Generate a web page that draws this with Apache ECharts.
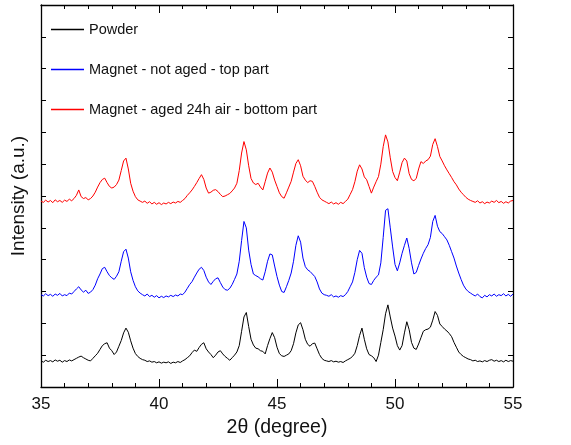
<!DOCTYPE html>
<html>
<head>
<meta charset="utf-8">
<script src="https://cdn.jsdelivr.net/npm/echarts@6/dist/echarts.min.js"></script>
<style>
  html, body { margin: 0; padding: 0; background: #fff; }
  #chart { width: 571px; height: 445px; }
</style>
</head>
<body>
<div id="chart"></div>
<script>
// XRD patterns, 2θ from 35° to 55° sampled every 0.1°; curves stacked with offsets (a.u.)
const angleStart = 35.0;
const angleStep = 0.1;

const seriesNames = [
  'Powder',
  'Magnet - not aged - top part',
  'Magnet - aged 24h air - bottom part'
];
const seriesColors = ['#000000', '#0000ff', '#ff0000'];

const powder = [
  0.82,0.78,0.84,0.80,0.83,0.79,0.85,0.81,0.84,0.78,
  0.83,0.80,0.85,0.82,0.86,0.90,0.94,0.97,0.92,0.88,
  0.84,0.82,0.90,0.98,1.06,1.18,1.30,1.36,1.39,1.22,
  1.14,1.02,1.10,1.28,1.46,1.70,1.85,1.72,1.45,1.22,
  1.05,0.96,0.90,0.86,0.84,0.80,0.82,0.78,0.80,0.76,
  0.79,0.75,0.78,0.76,0.79,0.74,0.78,0.76,0.80,0.77,
  0.82,0.86,0.92,0.98,1.08,1.16,1.12,1.24,1.34,1.39,
  1.20,1.10,1.02,0.92,1.00,1.10,1.14,1.04,0.96,0.90,
  0.84,0.92,1.00,1.10,1.30,1.75,2.20,2.34,1.90,1.50,
  1.32,1.22,1.20,1.14,1.12,1.04,1.30,1.52,1.71,1.55,
  1.25,1.05,0.98,0.96,1.00,1.04,1.14,1.36,1.70,1.95,
  2.02,1.80,1.50,1.34,1.28,1.36,1.38,1.20,1.02,0.90,
  0.84,0.82,0.80,0.83,0.79,0.81,0.78,0.80,0.77,0.82,
  0.86,0.90,0.96,1.06,1.30,1.62,1.85,1.50,1.20,1.02,
  0.98,0.92,0.80,1.00,1.40,1.80,2.30,2.58,2.20,1.85,
  1.60,1.30,1.16,1.30,1.70,2.05,1.80,1.40,1.22,1.18,
  1.35,1.55,1.75,1.80,1.82,1.88,2.10,2.37,2.25,1.98,
  1.90,1.82,1.76,1.68,1.58,1.40,1.25,1.10,1.02,0.96,
  0.92,0.88,0.86,0.82,0.84,0.80,0.82,0.79,0.83,0.80,
  0.84,0.86,0.81,0.84,0.80,0.83,0.79,0.84,0.80,0.83,
  0.81
];

const notAgedTop = [
  2.90,2.86,2.93,2.87,2.91,2.85,2.92,2.88,2.94,2.86,
  2.90,2.87,2.95,2.92,3.00,3.08,3.15,3.05,2.98,3.04,
  2.94,2.98,3.06,3.20,3.40,3.55,3.72,3.76,3.62,3.50,
  3.43,3.38,3.48,3.62,3.95,4.25,4.33,4.05,3.62,3.35,
  3.15,3.02,2.95,2.90,2.86,2.92,2.84,2.88,2.82,2.87,
  2.80,2.85,2.81,2.86,2.83,2.88,2.84,2.89,2.86,2.92,
  2.90,2.98,3.10,3.22,3.31,3.45,3.58,3.70,3.76,3.66,
  3.45,3.30,3.22,3.32,3.40,3.43,3.28,3.14,3.06,3.04,
  3.10,3.22,3.38,3.55,3.95,4.60,5.20,5.00,4.30,3.85,
  3.55,3.50,3.46,3.40,3.36,3.62,3.95,4.18,4.15,3.80,
  3.47,3.20,3.00,2.97,3.15,3.35,3.58,3.95,4.45,4.75,
  4.55,4.05,3.78,3.68,3.63,3.55,3.47,3.30,3.08,2.95,
  2.90,2.88,2.85,2.90,2.83,2.86,2.82,2.87,2.84,2.90,
  3.00,3.15,3.30,3.60,4.00,4.29,4.20,3.75,3.45,3.25,
  3.22,3.35,3.45,3.52,3.90,4.70,5.55,5.60,5.00,4.40,
  3.85,3.65,3.90,4.20,4.45,4.68,4.35,3.90,3.55,3.60,
  3.82,4.02,4.20,4.35,4.47,4.70,5.20,5.39,5.05,4.88,
  4.82,4.72,4.62,4.45,4.25,4.05,3.80,3.58,3.38,3.20,
  3.08,3.00,2.95,2.90,2.86,2.92,2.84,2.80,2.88,2.83,
  2.90,2.86,2.92,2.85,2.90,2.87,2.93,2.86,2.91,2.85,
  2.92
];

const agedBottom = [
  5.84,5.80,5.87,5.81,5.86,5.79,5.88,5.82,5.86,5.80,
  5.87,5.83,5.90,5.85,5.92,6.02,6.19,5.98,5.92,5.95,
  5.88,5.92,6.00,6.12,6.28,6.42,6.52,6.56,6.42,6.30,
  6.25,6.28,6.36,6.50,6.80,7.10,7.19,6.85,6.40,6.15,
  5.98,5.88,5.84,5.80,5.84,5.77,5.82,5.75,5.80,5.74,
  5.79,5.73,5.78,5.75,5.80,5.76,5.81,5.78,5.83,5.80,
  5.86,5.92,6.02,6.10,6.19,6.30,6.42,6.55,6.67,6.52,
  6.25,6.09,6.12,6.18,6.20,6.14,6.05,5.98,6.00,6.04,
  6.08,6.16,6.25,6.40,6.80,7.35,7.71,7.45,6.95,6.55,
  6.41,6.36,6.40,6.28,6.19,6.45,6.72,6.88,6.75,6.50,
  6.30,6.10,5.98,5.93,6.10,6.28,6.46,6.75,7.02,7.14,
  6.95,6.62,6.50,6.42,6.48,6.46,6.30,6.12,5.96,5.88,
  5.84,5.80,5.76,5.81,5.75,5.79,5.74,5.80,5.76,5.83,
  5.90,6.05,6.20,6.45,6.78,6.98,6.85,6.60,6.51,6.30,
  6.09,6.28,6.45,6.61,7.00,7.55,7.92,7.70,7.20,6.77,
  6.58,6.48,6.75,7.05,7.19,7.10,6.70,6.52,6.48,6.55,
  6.85,7.08,7.02,7.10,7.14,7.25,7.62,7.80,7.55,7.24,
  7.10,6.95,6.82,6.70,6.58,6.45,6.35,6.22,6.12,6.04,
  5.96,5.90,5.86,5.83,5.80,5.85,5.78,5.82,5.76,5.81,
  5.78,5.84,5.80,5.86,5.79,5.83,5.77,5.82,5.78,5.84,
  5.86
];

const xTicks = { min: 35, max: 55, interval: 5 };
const yRange = { min: 0, max: 12, interval: 1 };

function toPairs(values) {
  return values.map((v, i) => [+(angleStart + i * angleStep).toFixed(1), v]);
}

const allData = [powder, notAgedTop, agedBottom];

const chart = echarts.init(document.getElementById('chart'), null, { renderer: 'canvas' });

const font = 'Liberation Sans, Arial, Helvetica, sans-serif';

const frameAxisX = {
  type: 'value',
  min: xTicks.min, max: xTicks.max, interval: xTicks.interval,
  axisLine: { show: true, onZero: false, lineStyle: { color: '#000', width: 1.3 } },
  axisTick: { show: true, inside: true, length: 8, lineStyle: { color: '#000', width: 1 } },
  minorTick: { show: true, splitNumber: 5, length: 4, lineStyle: { color: '#000', width: 1 } },
  splitLine: { show: false },
  minorSplitLine: { show: false }
};

const frameAxisY = {
  type: 'value',
  min: yRange.min, max: yRange.max, interval: yRange.interval,
  axisLine: { show: true, onZero: false, lineStyle: { color: '#000', width: 1.3 } },
  axisTick: { show: true, inside: true, length: 5, lineStyle: { color: '#000', width: 1 } },
  axisLabel: { show: false },
  splitLine: { show: false }
};

chart.setOption({
  animation: false,
  backgroundColor: '#fff',
  grid: { left: 41, right: 58, top: 5, bottom: 58, containLabel: false },
  legend: {
    orient: 'vertical',
    left: 46,
    top: 17,
    itemWidth: 33,
    itemHeight: 1.5,
    itemGap: 25,
    icon: 'rect',
    textStyle: { fontFamily: font, fontSize: 14.5, color: '#111' },
    data: seriesNames.map((name, k) => ({
      name: name,
      icon: 'rect',
      itemStyle: { color: seriesColors[k], borderWidth: 0 }
    }))
  },
  xAxis: [
    Object.assign({}, frameAxisX, {
      position: 'bottom',
      name: '2θ (degree)',
      nameLocation: 'middle',
      nameGap: 30,
      nameTextStyle: { fontFamily: font, fontSize: 19.5, color: '#111' },
      axisLabel: { show: true, fontFamily: font, fontSize: 17, color: '#111', margin: 9 }
    }),
    Object.assign({}, frameAxisX, {
      position: 'top',
      axisLabel: { show: false }
    })
  ],
  yAxis: [
    Object.assign({}, frameAxisY, {
      position: 'left',
      name: 'Intensity (a.u.)',
      nameLocation: 'middle',
      nameGap: 13,
      nameTextStyle: { fontFamily: font, fontSize: 19, color: '#111' }
    }),
    Object.assign({}, frameAxisY, { position: 'right' })
  ],
  series: seriesNames.map((name, k) => ({
    name: name,
    type: 'line',
    xAxisIndex: 0,
    yAxisIndex: 0,
    data: toPairs(allData[k]),
    symbol: 'none',
    smooth: false,
    color: seriesColors[k],
    lineStyle: { color: seriesColors[k], width: 1 },
    itemStyle: { color: seriesColors[k] }
  }))
});
</script>
</body>
</html>
